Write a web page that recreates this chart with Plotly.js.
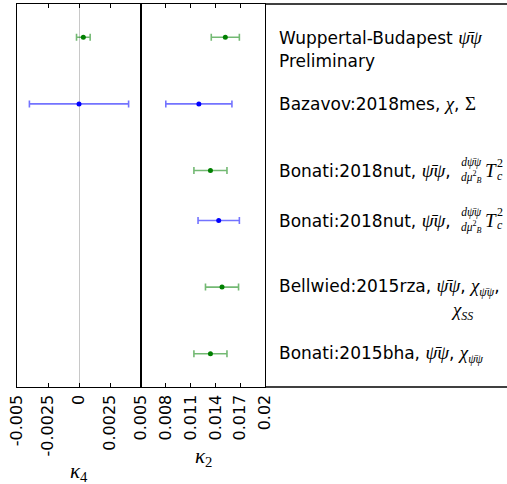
<!DOCTYPE html>
<html>
<head>
<meta charset="utf-8">
<script src="https://cdn.plot.ly/plotly-3.0.1.min.js"></script>
<style>html,body{margin:0;padding:0;background:#fff}#chart{width:507px;height:484px}</style>
</head>
<body>
<div id="chart"></div>
<script>
// ---- data ----
const rowNames = ['Wuppertal-Budapest', 'Bazavov:2018mes', 'Bonati:2018nut', 'Bonati:2018nut', 'Bellwied:2015rza', 'Bonati:2015bha'];
const rowPos = [0, 1, 2, 2.75, 3.75, 4.75];
const rowGroup = ['green', 'blue', 'green', 'blue', 'green', 'green'];
const kappa4Val = [0.00035, 0.0, null, null, null, null];
const kappa4Err = [0.00055, 0.004, null, null, null, null];
const kappa2Val = [0.0152, 0.012, 0.0134, 0.0144, 0.0148, 0.0134];
const kappa2Err = [0.0017, 0.004, 0.002, 0.0025, 0.002, 0.002];
const k4TickVals = [-0.005, -0.0025, 0, 0.0025, 0.005];
const k4TickText = ['-0.005', '-0.0025', '0', '0.0025', '0.005'];
const k2TickVals = [0.008, 0.011, 0.014, 0.017, 0.02];
const k2TickText = ['0.008', '0.011', '0.014', '0.017', '0.02'];

// ---- label text ----
const MF = "'Liberation Serif','DejaVu Serif',serif";
const m = s => `<span style="font-family:${MF};font-size:19px"><i>${s}</i></span>`;
const ms = s => `<span style="font-family:${MF}"><i>${s}</i></span>`;
const psibar = 'ψ\u0304ψ';
const labelMain = [
  'Wuppertal-Budapest ' + m(psibar),
  'Bazavov:2018mes, ' + m('χ') + ', ' + `<span style="font-family:${MF};font-size:19px">Σ</span>`,
  'Bonati:2018nut, ' + m(psibar) + ',',
  'Bonati:2018nut, ' + m(psibar) + ',',
  'Bellwied:2015rza, ' + m(psibar) + ', ' + m('χ') + `<sub>${ms(psibar)}</sub>,`,
  'Bonati:2015bha, ' + m(psibar) + ', ' + m('χ') + `<sub>${ms(psibar)}</sub>`
];
const labelSecond = ['Preliminary', '', '', '', m('χ') + `<sub>${ms('SS')}</sub>`, ''];

const colorMap = {green: {m: '#008000', e: 'rgba(0,128,0,0.55)'}, blue: {m: '#0000ff', e: 'rgba(0,0,255,0.55)'}};

const traces = [];
['green', 'blue'].forEach(g => {
  const idx = rowPos.map((_, i) => i).filter(i => rowGroup[i] === g);
  const i4 = idx.filter(i => kappa4Val[i] !== null);
  traces.push({
    x: i4.map(i => kappa4Val[i]), y: i4.map(i => rowPos[i]),
    error_x: {type: 'data', array: i4.map(i => kappa4Err[i]), color: colorMap[g].e, thickness: 1.6, width: 3.5},
    mode: 'markers', type: 'scatter', xaxis: 'x', yaxis: 'y',
    marker: {color: colorMap[g].m, size: 5}, showlegend: false, hoverinfo: 'skip'
  });
  traces.push({
    x: idx.map(i => kappa2Val[i]), y: idx.map(i => rowPos[i]),
    error_x: {type: 'data', array: idx.map(i => kappa2Err[i]), color: colorMap[g].e, thickness: 1.6, width: 3.5},
    mode: 'markers', type: 'scatter', xaxis: 'x2', yaxis: 'y2',
    marker: {color: colorMap[g].m, size: 5}, showlegend: false, hoverinfo: 'skip'
  });
});

const W = 507, H = 484;
const TF = {family: 'DejaVu Sans', size: 17, color: '#000'};
const annotations = [];
rowPos.forEach((p, i) => {
  annotations.push({xref: 'paper', yref: 'y', x: 278 / W, y: p, xanchor: 'left', yanchor: 'middle',
    text: labelMain[i], showarrow: false, font: TF, borderpad: 0});
  if (labelSecond[i]) {
    annotations.push({xref: 'paper', yref: 'y', x: (i === 4 ? 450 : 278) / W, y: p, yshift: -24,
      xanchor: 'left', yanchor: 'middle', text: labelSecond[i], showarrow: false, font: TF, borderpad: 0});
  }
  if (i === 2 || i === 3) {
    annotations.push({xref: 'paper', yref: 'y', x: 471 / W, y: p, yshift: 0, xanchor: 'center', yanchor: 'middle',
      text: '<i>d' + psibar + '</i><br><i>dμ</i><sup>2</sup><sub><i>B</i></sub>', showarrow: false,
      font: {family: MF, size: 11.5, color: '#000'}, borderpad: 0});
    annotations.push({xref: 'paper', yref: 'y', x: 484 / W, y: p, yshift: 0, xanchor: 'left', yanchor: 'middle',
      text: '<i>T</i>', showarrow: false, font: {family: MF, size: 19, color: '#000'}, borderpad: 0});
    annotations.push({xref: 'paper', yref: 'y', x: 496 / W, y: p, yshift: 8, xanchor: 'left', yanchor: 'middle',
      text: '2', showarrow: false, font: {family: MF, size: 12, color: '#000'}, borderpad: 0});
    annotations.push({xref: 'paper', yref: 'y', x: 496 / W, y: p, yshift: -5, xanchor: 'left', yanchor: 'middle',
      text: '<i>c</i>', showarrow: false, font: {family: MF, size: 12, color: '#000'}, borderpad: 0});
  }
});
// axis titles (matplotlib places each below its own tick labels)
annotations.push({xref: 'paper', yref: 'paper', x: 79 / W, y: -(472 - 387) / 383, xanchor: 'center', yanchor: 'middle',
  text: '<i>κ</i><sub>4</sub>', showarrow: false, font: {family: MF, size: 21, color: '#000'}});
annotations.push({xref: 'paper', yref: 'paper', x: 203 / W, y: -(457 - 387) / 383, xanchor: 'center', yanchor: 'middle',
  text: '<i>κ</i><sub>2</sub>', showarrow: false, font: {family: MF, size: 21, color: '#000'}});

const axBase = {
  showline: true, linecolor: '#000', linewidth: 1.3, mirror: 'allticks',
  ticks: 'inside', ticklen: 4, tickwidth: 1, tickcolor: '#000',
  tickangle: -90, tickfont: {family: 'DejaVu Sans', size: 16, color: '#000'},
  showgrid: false, tickmode: 'array'
};
const layout = {
  width: 507, height: 484,
  margin: {l: 0, r: 0, t: 4, b: 97, pad: 0},
  paper_bgcolor: '#fff', plot_bgcolor: '#fff',
  xaxis: Object.assign({}, axBase, {domain: [17 / W, 141 / W], range: [-0.005, 0.005], tickvals: k4TickVals, ticktext: k4TickText,
    zeroline: true, zerolinecolor: '#c8c8c8', zerolinewidth: 1, anchor: 'y'}),
  xaxis2: Object.assign({}, axBase, {domain: [141 / W, 265 / W], range: [0.005, 0.02], tickvals: k2TickVals, ticktext: k2TickText,
    zeroline: false, anchor: 'y2'}),
  yaxis: {range: [5.25, -0.5], showline: true, mirror: true, linecolor: '#000', linewidth: 1.3, ticks: '', showticklabels: false, showgrid: false, zeroline: false, anchor: 'x'},
  yaxis2: {range: [5.25, -0.5], matches: 'y', showline: true, mirror: true, linecolor: '#000', linewidth: 1.3, ticks: '', showticklabels: false, showgrid: false, zeroline: false, anchor: 'x2'},
  shapes: [
    {type: 'line', xref: 'paper', yref: 'paper', x0: 265 / W, x1: 1.02, y0: 1, y1: 1, line: {color: '#000', width: 1.3}},
    {type: 'line', xref: 'paper', yref: 'paper', x0: 265 / W, x1: 1.02, y0: 0, y1: 0, line: {color: '#000', width: 1.3}}
  ],
  annotations: annotations
};
Plotly.newPlot('chart', traces, layout, {staticPlot: true, displayModeBar: false});
</script>
</body>
</html>
